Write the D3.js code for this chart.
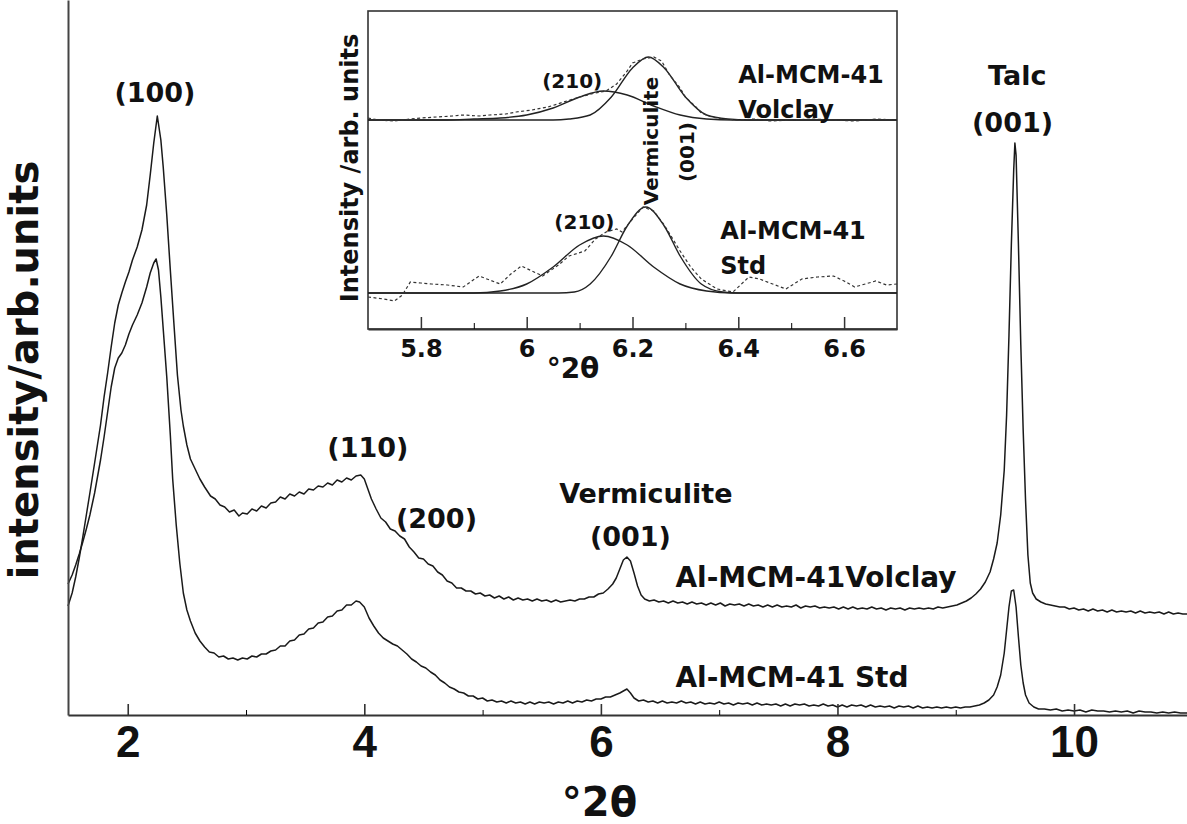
<!DOCTYPE html>
<html>
<head>
<meta charset="utf-8">
<script src="https://cdn.jsdelivr.net/npm/d3@7"></script>
<style>
  body { margin: 0; background: #fff; }
  svg text { font-family: "DejaVu Sans", sans-serif; font-weight: bold; fill: #111; }
</style>
</head>
<body>
<svg id="xrd" width="1187" height="824"></svg>
<script>
// ---- data (°2θ, intensity in arb. units, traces already stacked) ----
const volclayMain = [
  [1.495,109],[1.53,122],[1.56,138],[1.59,157],[1.62,178],[1.65,200],[1.68,222],[1.72,252],[1.77,290],[1.80,318],
  [1.83,342],[1.86,368],[1.89,392],[1.92,410],[1.95,422],[1.98,433],[2.01,443],[2.04,455],[2.08,468],[2.12,485],
  [2.16,510],[2.19,540],[2.22,572],[2.25,599],[2.28,575],[2.30,548],[2.33,500],[2.36,445],[2.39,392],[2.42,340],
  [2.45,305],[2.47,289],[2.50,270],[2.53,256],[2.57,246],[2.61,236],[2.65,228],[2.70,219],[2.74,216],[2.78,210],
  [2.82,208],[2.86,203],[2.90,205],[2.94,199],[2.97,202],[3.01,201],[3.05,206],[3.09,204],[3.13,209],[3.17,207],
  [3.21,212],[3.25,213],[3.29,218],[3.33,216],[3.37,221],[3.41,219],[3.45,223],[3.49,221],[3.53,226],[3.57,225],
  [3.61,229],[3.65,228],[3.69,232],[3.73,230],[3.77,235],[3.81,233],[3.85,237],[3.89,235],[3.93,239],[3.97,240],
  [4.00,236],[4.03,226],[4.06,216],[4.10,206],[4.14,197],[4.18,193],[4.22,186],[4.26,184],[4.30,179],[4.34,176],
  [4.38,168],[4.42,163],[4.46,157],[4.50,156],[4.54,151],[4.58,149],[4.62,143],[4.66,140],[4.70,134],[4.74,132],
  [4.78,127],[4.82,127],[4.86,124],[4.90,124],[4.94,121],[4.98,122],[5.02,119],[5.06,120],[5.10,117],[5.14,119],
  [5.18,116],[5.22,118],[5.26,115],[5.30,117],[5.34,115],[5.38,116],[5.42,114],[5.46,116],[5.50,114],[5.54,115],
  [5.58,113],[5.62,115],[5.66,113],[5.70,114],[5.74,115],[5.78,114],[5.82,116],[5.86,116],[5.90,118],[5.94,118],
  [5.98,121],[6.02,122],[6.06,126],[6.10,131],[6.13,137],[6.16,146],[6.19,155],[6.22,158],[6.25,154],[6.28,142],
  [6.31,129],[6.34,120],[6.37,116],[6.41,114],[6.45,115],[6.49,113],[6.53,114],[6.57,112],[6.61,114],[6.65,112],
  [6.69,113],[6.73,111],[6.77,113],[6.81,111],[6.85,112],[6.89,110],[6.93,112],[6.97,110],[7.01,112],[7.05,109],
  [7.09,111],[7.13,110],[7.17,111],[7.21,109],[7.25,111],[7.29,109],[7.33,110],[7.37,108],[7.41,110],[7.45,108],
  [7.49,110],[7.53,108],[7.57,109],[7.61,108],[7.65,110],[7.69,107],[7.73,109],[7.77,108],[7.81,109],[7.85,107],
  [7.89,108],[7.93,107],[7.97,108],[8.01,106],[8.05,108],[8.09,106],[8.13,108],[8.17,106],[8.21,107],[8.25,106],
  [8.29,108],[8.33,106],[8.37,107],[8.41,105],[8.45,107],[8.49,106],[8.53,107],[8.57,105],[8.61,107],[8.65,106],
  [8.69,107],[8.73,106],[8.77,107],[8.81,106],[8.85,108],[8.89,107],[8.93,108],[8.97,109],[9.01,110],[9.05,112],
  [9.09,114],[9.13,117],[9.17,121],[9.21,126],[9.25,133],[9.29,143],[9.32,156],[9.35,172],[9.38,200],[9.41,245],
  [9.43,300],[9.45,380],[9.47,470],[9.49,545],[9.50,572],[9.51,560],[9.53,470],[9.55,370],[9.57,285],[9.59,215],
  [9.61,160],[9.63,132],[9.65,122],[9.68,116],[9.72,113],[9.76,111],[9.80,110],[9.84,109],[9.88,108],[9.92,108],
  [9.96,106],[10.00,107],[10.04,105],[10.08,106],[10.12,104],[10.16,106],[10.20,104],[10.24,105],[10.28,103],[10.32,105],
  [10.36,103],[10.40,104],[10.44,103],[10.48,104],[10.52,102],[10.56,104],[10.60,102],[10.64,103],[10.68,102],[10.72,103],
  [10.76,101],[10.80,103],[10.84,101],[10.88,102],[10.92,101],[10.955,101]
];

const stdMain = [
  [1.495,131],[1.53,140],[1.56,150],[1.59,161],[1.62,173],[1.65,186],[1.68,200],[1.72,222],[1.77,255],[1.80,278],
  [1.83,303],[1.86,328],[1.89,347],[1.92,357],[1.95,362],[1.98,370],[2.01,381],[2.04,390],[2.08,400],[2.12,412],
  [2.16,428],[2.19,442],[2.22,452],[2.24,456],[2.26,445],[2.28,418],[2.31,370],[2.33,338],[2.36,280],[2.38,236],
  [2.41,190],[2.44,152],[2.47,122],[2.50,105],[2.53,94],[2.57,82],[2.61,74],[2.65,68],[2.69,63],[2.73,62],
  [2.77,58],[2.81,59],[2.85,56],[2.89,57],[2.93,55],[2.97,57],[3.01,56],[3.05,59],[3.09,58],[3.13,61],
  [3.17,61],[3.21,64],[3.25,65],[3.29,69],[3.33,69],[3.37,74],[3.41,75],[3.45,80],[3.49,81],[3.53,86],
  [3.57,87],[3.61,92],[3.65,93],[3.69,98],[3.73,99],[3.77,104],[3.81,105],[3.85,110],[3.89,110],[3.93,114],
  [3.96,113],[4.00,108],[4.04,97],[4.08,89],[4.12,82],[4.16,77],[4.20,74],[4.24,71],[4.28,69],[4.32,65],
  [4.36,61],[4.40,56],[4.44,53],[4.48,49],[4.52,47],[4.56,43],[4.60,40],[4.64,35],[4.68,32],[4.72,28],
  [4.76,26],[4.80,23],[4.84,22],[4.88,19],[4.92,19],[4.96,16],[5.00,17],[5.04,14],[5.08,15],[5.12,13],
  [5.16,14],[5.20,12],[5.24,14],[5.28,12],[5.32,13],[5.36,11],[5.40,13],[5.44,11],[5.48,13],[5.52,12],
  [5.56,13],[5.60,11],[5.64,13],[5.68,12],[5.72,14],[5.76,12],[5.80,14],[5.84,13],[5.88,15],[5.92,14],
  [5.96,16],[6.00,16],[6.04,18],[6.08,18],[6.12,20],[6.16,22],[6.19,24],[6.22,26],[6.25,22],[6.28,17],
  [6.32,14],[6.36,15],[6.40,13],[6.44,14],[6.48,12],[6.52,14],[6.56,12],[6.60,13],[6.64,12],[6.68,14],
  [6.72,12],[6.76,13],[6.80,11],[6.84,13],[6.88,11],[6.92,12],[6.96,11],[7.00,13],[7.04,11],[7.08,12],
  [7.12,10],[7.16,12],[7.20,11],[7.24,12],[7.28,10],[7.32,12],[7.36,10],[7.40,11],[7.44,10],[7.48,11],
  [7.52,9],[7.56,11],[7.60,9],[7.64,11],[7.68,10],[7.72,11],[7.76,9],[7.80,10],[7.84,9],[7.88,11],
  [7.92,9],[7.96,10],[8.00,8],[8.04,10],[8.08,8],[8.12,10],[8.16,9],[8.20,10],[8.24,8],[8.28,10],
  [8.32,8],[8.36,9],[8.40,8],[8.44,9],[8.48,7],[8.52,9],[8.56,8],[8.60,9],[8.64,7],[8.68,9],
  [8.72,7],[8.76,8],[8.80,7],[8.84,8],[8.88,7],[8.92,8],[8.96,7],[9.00,8],[9.04,7],[9.08,8],
  [9.12,8],[9.16,9],[9.20,10],[9.24,12],[9.28,15],[9.32,20],[9.35,28],[9.38,40],[9.41,62],[9.43,85],
  [9.45,108],[9.47,124],[9.49,125],[9.51,108],[9.53,78],[9.55,50],[9.57,32],[9.59,20],[9.62,12],[9.66,8],
  [9.70,6],[9.75,6],[9.80,5],[9.85,6],[9.90,4],[9.95,5],[10.00,4],[10.05,5],[10.10,3],[10.15,5],
  [10.20,4],[10.25,4],[10.30,3],[10.35,4],[10.40,3],[10.45,4],[10.50,2],[10.55,4],[10.60,3],[10.65,3],
  [10.70,2],[10.75,3],[10.80,2],[10.85,3],[10.90,2],[10.955,2]
];

// inset: measured (dashed) and the two fitted peaks (solid) for each sample
const insetVolclayObs = [
  [5.70,211],[5.72,209],[5.75,208],[5.78,210],[5.80,211],[5.83,212],[5.86,213],[5.88,214],[5.91,213],[5.93,214],
  [5.96,215],[5.98,217],[6.01,219],[6.04,222],[6.07,227],[6.10,232],[6.13,236],[6.15,238],[6.17,245],[6.19,258],
  [6.20,266],[6.22,270],[6.24,272],[6.255,268],[6.27,254],[6.29,241],[6.30,232],[6.32,222],[6.33,216],[6.35,212],
  [6.37,210],[6.40,209],[6.43,210],[6.46,208],[6.50,209],[6.54,210],[6.58,209],[6.62,208],[6.66,210],[6.70,209]
];
const insetVolclay210 = [
  [5.70,209],[5.85,209],[5.90,210],[5.95,211],[6.00,214],[6.05,221],[6.10,232],[6.145,238],[6.19,234],[6.24,223],
  [6.29,214],[6.34,210],[6.39,209],[6.70,209]
];
const insetVolclayVerm = [
  [5.70,209],[6.05,209],[6.08,210],[6.12,214],[6.16,232],[6.20,261],[6.23,272],[6.26,261],[6.30,232],[6.34,214],
  [6.38,210],[6.42,209],[6.70,209]
];
const insetStdObs = [
  [5.70,32],[5.73,30],[5.75,28],[5.765,34],[5.78,47],[5.80,46],[5.82,45],[5.85,44],[5.88,42],[5.91,53],
  [5.93,49],[5.95,45],[5.97,55],[5.99,63],[6.01,58],[6.03,53],[6.06,64],[6.08,73],[6.11,78],[6.13,90],
  [6.15,97],[6.17,100],[6.18,97],[6.20,110],[6.22,122],[6.24,118],[6.26,104],[6.29,78],[6.31,62],[6.33,50],
  [6.36,40],[6.39,37],[6.42,52],[6.44,50],[6.46,46],[6.49,40],[6.52,50],[6.55,52],[6.58,53],[6.60,48],
  [6.62,42],[6.64,45],[6.66,48],[6.68,44],[6.70,45]
];
const insetStd210 = [
  [5.70,36],[5.90,36],[5.95,38],[6.00,45],[6.05,62],[6.10,84],[6.145,93],[6.19,84],[6.24,62],[6.29,45],
  [6.34,38],[6.39,36],[6.70,36]
];
const insetStdVerm = [
  [5.70,36],[6.06,36],[6.09,37],[6.12,45],[6.16,73],[6.19,103],[6.225,122],[6.26,103],[6.29,73],[6.33,45],
  [6.37,37],[6.40,36],[6.70,36]
];

const mainMajorTicks = [2, 4, 6, 8, 10];
const mainMinorTicks = [3, 5, 7, 9];
const insetMajorTicks = [5.8, 6, 6.2, 6.4, 6.6];
const insetMinorTicks = [5.9, 6.1, 6.3, 6.5];

// peak labels: [text, °2θ, intensity]
const mainLabels = [
  ["(100)", 2.23, 613], ["Talc", 9.52, 630], ["(001)", 9.48, 583],
  ["(110)", 4.03, 258], ["(200)", 4.61, 187],
  ["Vermiculite", 6.38, 212], ["(001)", 6.25, 169]
];
const sampleLabels = [["Al-MCM-41Volclay", 6.63, 128], ["Al-MCM-41 Std", 6.63, 28]];

// ---- main plot ----
const svg = d3.select("#xrd");
const margin = { top: 0, right: 0, bottom: 109, left: 68 };
const iw = +svg.attr("width") - margin.left - margin.right;
const ih = +svg.attr("height") - margin.top - margin.bottom;
const g = svg.append("g").attr("transform", `translate(${margin.left},${margin.top})`);

const x = d3.scaleLinear().domain([1.495, 10.955]).range([0, iw]);
const y = d3.scaleLinear().domain([0, 715]).range([ih, 0]);

const line = d3.line().x(d => x(d[0])).y(d => y(d[1]));

[volclayMain, stdMain].forEach(s => {
  g.append("path").datum(s)
    .attr("d", line)
    .attr("fill", "none").attr("stroke", "#1a1a1a").attr("stroke-width", 1.5)
    .attr("stroke-linejoin", "round");
});

// axes: ticks point inward
const xAxis = g.append("g").attr("transform", `translate(0,${ih})`)
  .call(d3.axisBottom(x).tickValues(mainMajorTicks).tickSizeInner(-11).tickSizeOuter(0).tickFormat(d3.format("d")));
g.append("g").attr("transform", `translate(0,${ih})`)
  .call(d3.axisBottom(x).tickValues(mainMinorTicks).tickSizeInner(-5).tickSizeOuter(0).tickFormat(""))
  .select(".domain").remove();
xAxis.select(".domain").attr("stroke", "#333").attr("stroke-width", 2.2);
xAxis.selectAll(".tick line").attr("stroke", "#333").attr("stroke-width", 1.6);
xAxis.selectAll(".tick text").attr("y", 42).attr("dy", null)
  .style("font-family", "'Liberation Sans', Arial, sans-serif")
  .style("font-size", "44px");

const yAxis = g.append("g").call(d3.axisLeft(y).tickValues([]).tickSizeOuter(0));
yAxis.select(".domain").attr("stroke", "#444").attr("stroke-width", 2);

g.append("text")
  .attr("x", iw / 2 - 28).attr("y", ih + 101)
  .attr("text-anchor", "middle").style("font-size", "40px")
  .text("°2θ");

g.append("text")
  .attr("transform", "rotate(-90)")
  .attr("x", -370).attr("y", -30)
  .attr("text-anchor", "middle").style("font-size", "40px")
  .text("intensity/arb.units");

g.selectAll(".peak-label").data(mainLabels).join("text")
  .attr("class", "peak-label")
  .attr("x", d => x(d[1])).attr("y", d => y(d[2]))
  .attr("text-anchor", "middle").style("font-size", "27px")
  .text(d => d[0]);

g.selectAll(".sample-label").data(sampleLabels).join("text")
  .attr("class", "sample-label")
  .attr("x", d => x(d[1])).attr("y", d => y(d[2]))
  .style("font-size", "28px")
  .text(d => d[0]);

// ---- inset ----
const inset = { left: 368, top: 11, w: 529, h: 318 };
const ig = svg.append("g").attr("transform", `translate(${inset.left},${inset.top})`);
const xi = d3.scaleLinear().domain([5.7, 6.7]).range([0, inset.w]);
const yi = d3.scaleLinear().domain([0, 318]).range([inset.h, 0]);

ig.append("rect").attr("width", inset.w).attr("height", inset.h)
  .attr("fill", "#fff").attr("stroke", "#333").attr("stroke-width", 1.6);

const smooth = d3.line().x(d => xi(d[0])).y(d => yi(d[1])).curve(d3.curveMonotoneX);
const jagged = d3.line().x(d => xi(d[0])).y(d => yi(d[1]));

[insetVolclay210, insetVolclayVerm, insetStd210, insetStdVerm].forEach(s => {
  ig.append("path").datum(s).attr("d", smooth)
    .attr("fill", "none").attr("stroke", "#222").attr("stroke-width", 1.4);
});
[insetVolclayObs, insetStdObs].forEach(s => {
  ig.append("path").datum(s).attr("d", jagged)
    .attr("fill", "none").attr("stroke", "#333").attr("stroke-width", 1.2)
    .attr("stroke-dasharray", "3,2.5");
});

const ixAxis = ig.append("g").attr("transform", `translate(0,${inset.h})`)
  .call(d3.axisBottom(xi).tickValues(insetMajorTicks).tickSizeInner(-12).tickSizeOuter(0).tickFormat(d3.format("~g")));
ig.append("g").attr("transform", `translate(0,${inset.h})`)
  .call(d3.axisBottom(xi).tickValues(insetMinorTicks).tickSizeInner(-6).tickSizeOuter(0).tickFormat(""))
  .select(".domain").remove();
ixAxis.select(".domain").attr("stroke", "#333").attr("stroke-width", 2);
ixAxis.selectAll(".tick line").attr("stroke", "#333").attr("stroke-width", 1.5);
ixAxis.selectAll(".tick text").attr("y", 28).attr("dy", null).style("font-size", "24px");

ig.append("text")
  .attr("x", 205).attr("y", inset.h + 49)
  .attr("text-anchor", "middle").style("font-size", "28px")
  .text("°2θ");

ig.append("text")
  .attr("transform", "rotate(-90)")
  .attr("x", -157).attr("y", -10)
  .attr("text-anchor", "middle").style("font-size", "24px")
  .text("Intensity /arb. units");

const insetLabels = [["(210)", 6.086, 241], ["(210)", 6.109, 100]];
ig.selectAll(".in-peak").data(insetLabels).join("text")
  .attr("class", "in-peak")
  .attr("x", d => xi(d[1])).attr("y", d => yi(d[2]))
  .attr("text-anchor", "middle").style("font-size", "20px")
  .text(d => d[0]);

const insetSamples = [["Al-MCM-41", 6.40, 246], ["Volclay", 6.40, 211], ["Al-MCM-41", 6.366, 90], ["Std", 6.366, 55]];
ig.selectAll(".in-sample").data(insetSamples).join("text")
  .attr("class", "in-sample")
  .attr("x", d => xi(d[1])).attr("y", d => yi(d[2]))
  .style("font-size", "24px")
  .text(d => d[0]);

const insetVertical = [["Vermiculite", 6.249, 188], ["(001)", 6.317, 177]];
ig.selectAll(".in-vert").data(insetVertical).join("text")
  .attr("class", "in-vert")
  .attr("transform", d => `translate(${xi(d[1])},${yi(d[2])}) rotate(-90)`)
  .attr("text-anchor", "middle").style("font-size", "20px")
  .text(d => d[0]);
</script>
</body>
</html>
